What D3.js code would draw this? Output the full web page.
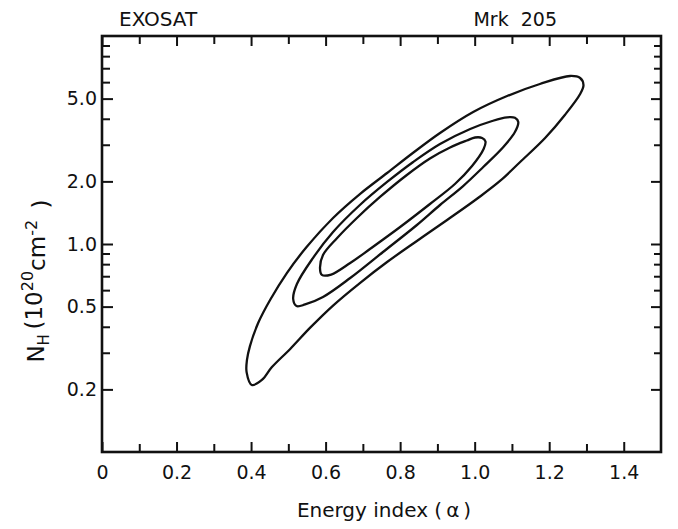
<!DOCTYPE html>
<html>
<head>
<meta charset="utf-8">
<script src="https://cdn.jsdelivr.net/npm/d3@7"></script>
<style>
  html, body { margin: 0; padding: 0; background: #fff; }
  svg { display: block; }
  text { font-family: "DejaVu Sans", sans-serif; fill: #111; }
</style>
</head>
<body>
<svg id="chart" width="678" height="529"></svg>
<script>
// ---- data (alpha, N_H in 1e20 cm^-2) ----
const xMajorTicks = [0, 0.2, 0.4, 0.6, 0.8, 1.0, 1.2, 1.4];
const xTickLabels = ["0", "0.2", "0.4", "0.6", "0.8", "1.0", "1.2", "1.4"];
const xMinorTicks = [0.1, 0.3, 0.5, 0.7, 0.9, 1.1, 1.3];
const yMajorTicks = [0.2, 0.5, 1, 2, 5];
const yTickLabels = ["0.2", "0.5", "1.0", "2.0", "5.0"];
const yMinorTicks = [0.3, 0.4, 0.6, 0.7, 0.8, 0.9, 3, 4, 6, 7, 8, 9];

const outerContour = [
  [0.402, 0.210], [0.388, 0.242], [0.389, 0.277], [0.397, 0.323], [0.419, 0.417],
  [0.451, 0.538], [0.496, 0.725], [0.549, 0.967], [0.620, 1.334], [0.692, 1.739],
  [0.765, 2.194], [0.834, 2.738], [0.907, 3.418], [0.996, 4.312], [1.087, 5.146],
  [1.175, 5.878], [1.256, 6.423], [1.283, 6.282], [1.292, 5.814],
  [1.283, 5.262], [1.242, 4.171], [1.189, 3.233], [1.122, 2.479], [1.068, 2.009],
  [1.009, 1.664], [0.926, 1.304], [0.845, 1.034], [0.765, 0.819],
  [0.692, 0.649], [0.620, 0.506], [0.558, 0.395], [0.505, 0.313], [0.456, 0.256],
  [0.429, 0.222]
];
const middleContour = [
  [0.522, 0.503], [0.513, 0.544], [0.523, 0.642], [0.566, 0.856], [0.620, 1.142],
  [0.692, 1.540], [0.765, 1.987], [0.835, 2.479], [0.907, 3.025], [0.988, 3.572],
  [1.047, 3.903], [1.087, 4.066], [1.108, 4.044], [1.117, 3.860], [1.108, 3.455],
  [1.077, 2.927], [1.023, 2.345], [0.969, 1.900], [0.907, 1.540], [0.845, 1.234],
  [0.754, 0.915], [0.666, 0.686], [0.593, 0.556], [0.545, 0.512]
];
const innerContour = [
  [0.590, 0.710], [0.585, 0.767], [0.593, 0.885], [0.631, 1.069], [0.684, 1.334],
  [0.746, 1.683], [0.818, 2.147], [0.880, 2.577], [0.934, 2.911], [0.979, 3.145],
  [1.001, 3.251], [1.020, 3.233], [1.029, 3.111], [1.024, 2.862], [0.993, 2.371],
  [0.947, 1.943], [0.880, 1.557], [0.800, 1.207], [0.719, 0.946], [0.666, 0.810],
  [0.615, 0.713]
];
const contours = [outerContour, middleContour, innerContour];

// ---- layout ----
const svg = d3.select("#chart");
const x = d3.scaleLinear().domain([0, 1.5]).range([102, 661]);
const y = d3.scaleLog().domain([0.1, 10]).range([452, 36]);

const tickStroke = 2;

function styleAxis(g) {
  g.select(".domain").remove();
  g.selectAll(".tick line").attr("stroke", "#111").attr("stroke-width", tickStroke);
  g.selectAll(".tick text").style("font-size", "19px").attr("fill", "#111");
}

// bottom
svg.append("g").attr("transform", `translate(0,${y(0.1)})`)
  .call(d3.axisBottom(x).tickValues(xMajorTicks).tickSize(-10).tickPadding(14)
    .tickFormat((d, i) => xTickLabels[i]))
  .call(styleAxis);
svg.append("g").attr("transform", `translate(0,${y(0.1)})`)
  .call(d3.axisBottom(x).tickValues(xMinorTicks).tickSize(-8).tickFormat(""))
  .call(styleAxis);
// top
svg.append("g").attr("transform", `translate(0,${y(10)})`)
  .call(d3.axisTop(x).tickValues(xMajorTicks).tickSize(-10).tickFormat(""))
  .call(styleAxis);
svg.append("g").attr("transform", `translate(0,${y(10)})`)
  .call(d3.axisTop(x).tickValues(xMinorTicks).tickSize(-8).tickFormat(""))
  .call(styleAxis);
// left
svg.append("g").attr("transform", `translate(${x(0)},0)`)
  .call(d3.axisLeft(y).tickValues(yMajorTicks).tickSize(-11).tickPadding(5)
    .tickFormat((d, i) => yTickLabels[i]))
  .call(styleAxis);
svg.append("g").attr("transform", `translate(${x(0)},0)`)
  .call(d3.axisLeft(y).tickValues(yMinorTicks).tickSize(-8).tickFormat(""))
  .call(styleAxis);
// right
svg.append("g").attr("transform", `translate(${x(1.5)},0)`)
  .call(d3.axisRight(y).tickValues(yMajorTicks).tickSize(-10).tickFormat(""))
  .call(styleAxis);
svg.append("g").attr("transform", `translate(${x(1.5)},0)`)
  .call(d3.axisRight(y).tickValues(yMinorTicks).tickSize(-7).tickFormat(""))
  .call(styleAxis);

// frame
svg.append("rect")
  .attr("x", x(0)).attr("y", y(10))
  .attr("width", x(1.5) - x(0)).attr("height", y(0.1) - y(10))
  .attr("fill", "none").attr("stroke", "#111").attr("stroke-width", 2.6);

// contours
const line = d3.line()
  .x(d => x(d[0])).y(d => y(d[1]))
  .curve(d3.curveCatmullRomClosed.alpha(0.5));
svg.append("g").selectAll("path").data(contours).join("path")
  .attr("d", line)
  .attr("fill", "none").attr("stroke", "#111").attr("stroke-width", 2.3)
  .attr("stroke-linejoin", "round");

// titles
svg.append("text").attr("x", 119).attr("y", 26)
  .style("font-size", "20px").text("EXOSAT");
svg.append("text").attr("x", 557).attr("y", 26).attr("text-anchor", "end")
  .style("font-size", "19px").style("white-space", "pre").text("Mrk  205");

// x axis title
const xt = svg.append("text").attr("x", 384).attr("y", 517).attr("text-anchor", "middle")
  .style("font-size", "20px");
xt.append("tspan").text("Energy index (");
xt.append("tspan").text("\u2009\u03b1\u2009");
xt.append("tspan").text(")");

// y axis title
const yt = svg.append("text")
  .attr("transform", "translate(44,281) rotate(-90)")
  .attr("text-anchor", "middle")
  .style("font-size", "23px");
yt.append("tspan").text("N");
yt.append("tspan").attr("dy", "0.3em").style("font-size", "15px").text("H");
yt.append("tspan").attr("dy", "-0.3em").text("\u2009(10");
yt.append("tspan").attr("dy", "-0.55em").style("font-size", "16px").text("20");
yt.append("tspan").attr("dy", "0.55em").text("cm");
yt.append("tspan").attr("dy", "-0.55em").style("font-size", "16px").text("-2");
yt.append("tspan").attr("dy", "0.55em").text("\u2002)");
</script>
</body>
</html>
